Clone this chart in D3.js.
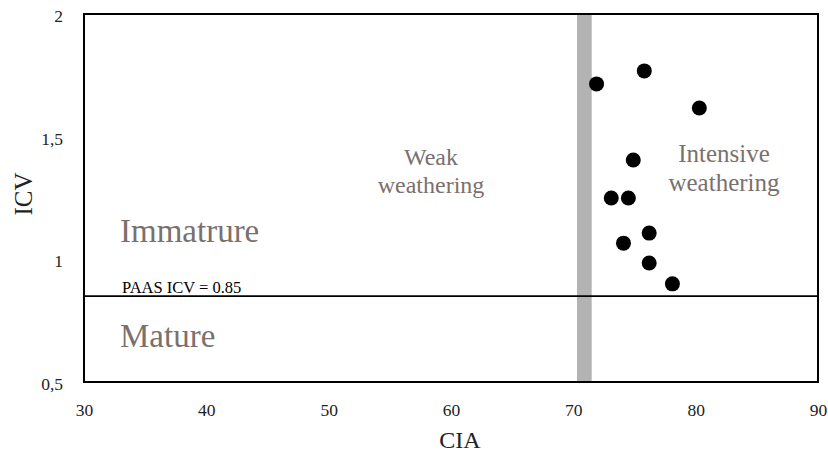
<!DOCTYPE html>
<html><head><meta charset="utf-8">
<script src="https://cdn.jsdelivr.net/npm/d3@7/dist/d3.min.js"></script>
<style>body{margin:0;background:#fff}svg text{font-family:"Liberation Serif","Times New Roman",serif}</style>
</head><body>
<svg id="c" width="828" height="454"></svg>
<script>
const cia = [71.9, 75.8, 80.3, 74.9, 73.1, 74.5, 76.2, 74.1, 76.2, 78.1];
const icv = [1.715, 1.768, 1.617, 1.405, 1.25, 1.25, 1.107, 1.066, 0.985, 0.90];
const xTicks = [30, 40, 50, 60, 70, 80, 90];
const yTicks = [0.5, 1, 1.5, 2];
const yTickLabels = ["0,5", "1", "1,5", "2"];
const paasICV = 0.85;
const boundaryCIA = [70.3, 71.5];

const svg = d3.select("#c");
const m = {l: 84, r: 818, t: 14, b: 382};
const x = d3.scaleLinear().domain([30, 90]).range([m.l, m.r]);
const y = d3.scaleLinear().domain([0.5, 2]).range([m.b, m.t]);

// gray boundary band
svg.append("rect").attr("x", x(boundaryCIA[0])).attr("y", m.t)
  .attr("width", x(boundaryCIA[1]) - x(boundaryCIA[0])).attr("height", m.b - m.t)
  .attr("fill", "#b3b3b3");

// PAAS line
svg.append("line").attr("x1", m.l).attr("x2", m.r).attr("y1", y(paasICV)).attr("y2", y(paasICV))
  .attr("stroke", "#000").attr("stroke-width", 1.6);

// frame
svg.append("rect").attr("x", m.l).attr("y", m.t).attr("width", m.r - m.l).attr("height", m.b - m.t)
  .attr("fill", "none").attr("stroke", "#000").attr("stroke-width", 2);

// axes (labels only)
const xa = svg.append("g").attr("transform", `translate(0,${m.b})`)
  .call(d3.axisBottom(x).tickValues(xTicks).tickSize(0).tickPadding(22).tickFormat(d3.format("d")));
xa.select(".domain").remove();
xa.selectAll("text").attr("font-size", 17.5).attr("fill", "#222").attr("font-family", "Liberation Serif");

const ya = svg.append("g").attr("transform", `translate(${m.l},0)`)
  .call(d3.axisLeft(y).tickValues(yTicks).tickSize(0).tickPadding(21).tickFormat((d, i) => yTickLabels[i]));
ya.select(".domain").remove();
ya.selectAll("text").attr("font-size", 17.5).attr("fill", "#222").attr("font-family", "Liberation Serif").attr("dy", "0.42em");

// axis titles
svg.append("text").attr("x", 460).attr("y", 448).attr("text-anchor", "middle")
  .attr("font-size", 24).attr("fill", "#222").text("CIA");
svg.append("text").attr("transform", `translate(32,194) rotate(-90)`)
  .attr("text-anchor", "middle").attr("font-size", 25).attr("fill", "#222").text("ICV");

// region labels
const tc = "#7a706c";
const t1 = svg.append("text").attr("text-anchor", "middle").attr("font-size", 24).attr("fill", tc);
t1.append("tspan").attr("x", 431).attr("y", 165).text("Weak");
t1.append("tspan").attr("x", 431).attr("y", 193).text("weathering");
const t2 = svg.append("text").attr("text-anchor", "middle").attr("font-size", 25).attr("fill", tc);
t2.append("tspan").attr("x", 724).attr("y", 162).text("Intensive");
t2.append("tspan").attr("x", 724).attr("y", 191).text("weathering");
svg.append("text").attr("x", 120).attr("y", 242).attr("font-size", 33).attr("fill", tc).text("Immatrure");
svg.append("text").attr("x", 120).attr("y", 347).attr("font-size", 33).attr("fill", tc).text("Mature");
svg.append("text").attr("x", 122).attr("y", 293).attr("font-size", 16.5).attr("fill", "#000")
  .text("PAAS ICV = 0.85");

// points
svg.append("g").selectAll("circle").data(cia.map((c, i) => [c, icv[i]])).join("circle")
  .attr("cx", d => x(d[0])).attr("cy", d => y(d[1])).attr("r", 7.5).attr("fill", "#000");
</script>
</body></html>
